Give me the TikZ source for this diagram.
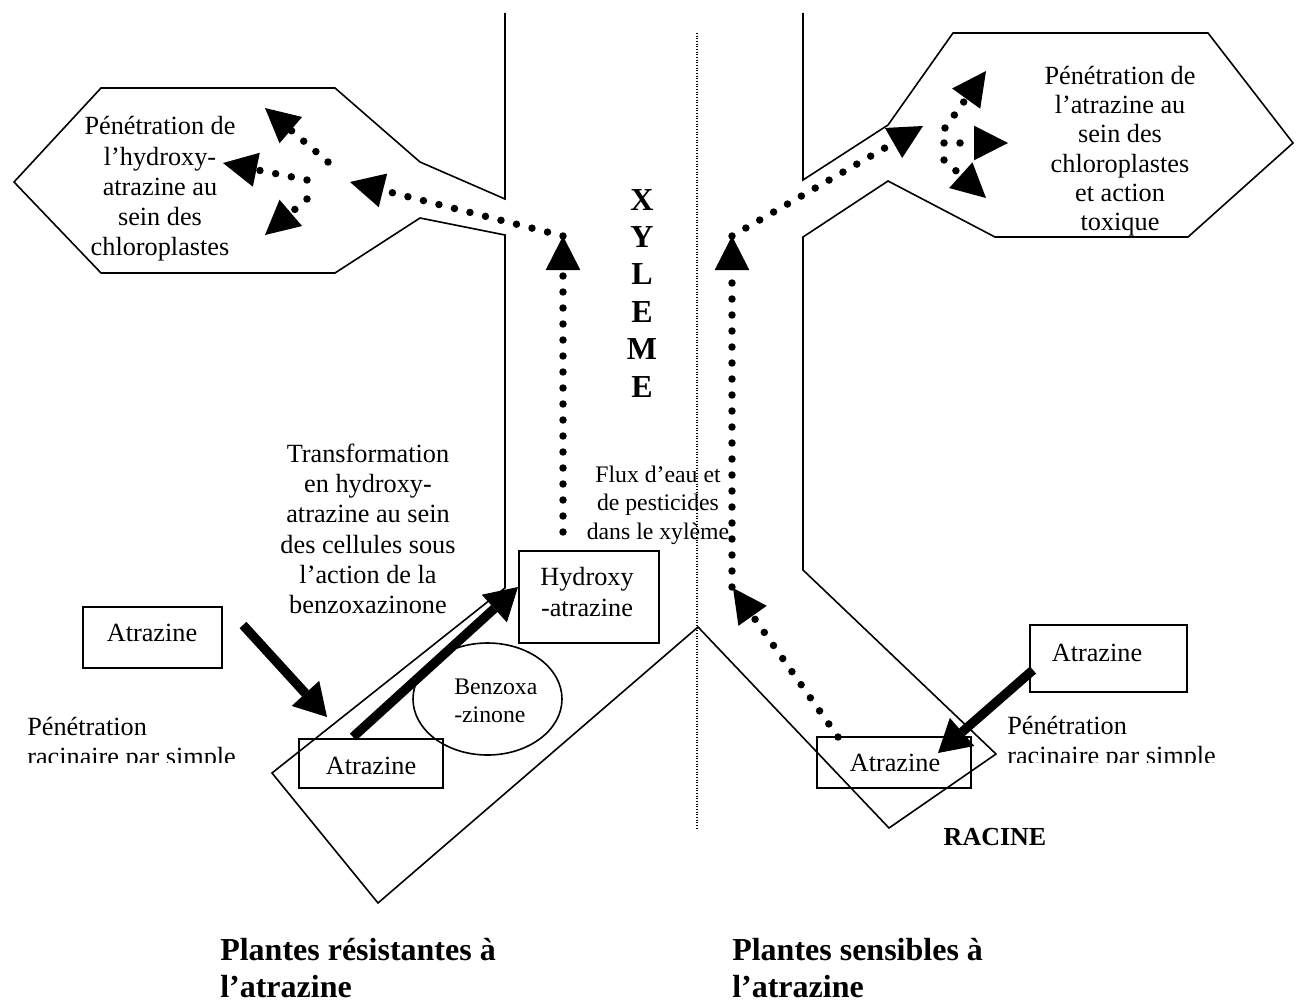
\documentclass[tikz,border=0pt]{standalone}
\usepackage{fontspec}
\setmainfont{Liberation Serif}
\usetikzlibrary{arrows.meta,shapes.geometric}
\begin{document}
\begin{tikzpicture}[x=0.75pt,y=-0.75pt,
  outline/.style={line width=1.2pt, line join=miter},
  boxshape/.style={draw, line width=1.2pt, inner sep=0pt},
  txt/.style={inner sep=0pt, align=center, font=\fontsize{19.7}{22.7}\selectfont},
  smalltxt/.style={inner sep=0pt, align=center, font=\fontsize{17.8}{21.4}\selectfont},
  boldtxt/.style={inner sep=0pt, font=\bfseries\fontsize{24}{28}\selectfont},
  racinetxt/.style={inner sep=0pt, font=\bfseries\fontsize{19.5}{22}\selectfont},
  dotarrow/.style={line width=5.6pt, line cap=round, dash pattern=on 0pt off 12pt,
    -{Triangle[length=25.5pt,width=26pt,line width=0pt]}},
  bigarrow/.style={line width=7pt, -{Triangle[length=24pt,width=28pt,line width=0pt]}},
  midline/.style={line width=0.8pt, dash pattern=on 0.8pt off 1.2pt},
]
\useasboundingbox (0,0) rectangle (1301,1002);

% ---------- outline of the plant (xylem walls, leaves, roots) ----------
\draw[outline] (505,13) -- (505,199) -- (420,162) -- (335,88) -- (101,88)
  -- (14,182) -- (101,273) -- (335,273) -- (420,218) -- (505,235) -- (505,588)
  -- (272,773) -- (378,903) -- (698,627) -- (889,828) -- (996,754) -- (803,570)
  -- (803,237) -- (888,181) -- (995,237) -- (1188,237) -- (1293,143) -- (1208,33)
  -- (953,33) -- (888,125) -- (803,180) -- (803,13);

% central separator
\coordinate (sepTop) at (697,33);
\coordinate (sepBot) at (697,830);
\draw[midline] (sepTop) -- (sepBot);

% ---------- boxes ----------
\node[boxshape, minimum width=104.25pt, minimum height=45.75pt] (atrTLbox) at (152.5,637.5) {};
\node[boxshape, minimum width=108pt, minimum height=36.75pt] (atrBLbox) at (371,763.5) {};
\node[boxshape, minimum width=105pt, minimum height=69pt] (hydbox) at (589,597) {};
\node[boxshape, minimum width=117.75pt, minimum height=50.25pt] (atrTRbox) at (1108.5,658.5) {};
\node[boxshape, minimum width=115.5pt, minimum height=38.25pt] (atrBRbox) at (894,762.5) {};
\node[draw, ellipse, line width=1.2pt, inner sep=0pt, minimum width=111.75pt, minimum height=84pt] (benz) at (487.5,699) {};

% ---------- texts ----------
\node[txt] (tAtrTL) at (152,633) {Atrazine};
\node[txt] (tAtrBL) at (371,766) {Atrazine};
\node[txt] (tHyd) at (587,592) {Hydroxy\\-atrazine};
\node[txt] (tAtrTR) at (1097,653) {Atrazine};
\node[txt] (tAtrBR) at (895,763) {Atrazine};
\node[smalltxt, align=left, anchor=west] (tBenz) at (454,701) {Benzoxa\\-zinone};

\node[txt] (leafL) at (160,189) {Pénétration de\\l’hydroxy-\\atrazine au\\sein des\\chloroplastes};
\node[txt, font=\fontsize{19.7}{22}\selectfont] (leafR) at (1120,151) {Pénétration de\\l’atrazine au\\sein des\\chloroplastes\\et action\\toxique};
\node[txt] (transf) at (368,529) {Transformation\\en hydroxy-\\atrazine au sein\\des cellules sous\\l’action de la\\benzoxazinone};
\node[smalltxt] (flux) at (658,505) {Flux d’eau et\\de pesticides\\dans le xylème};

\begin{scope}
  \clip (0,0) rectangle (1301,762.5);
  \node[txt, anchor=base west] (penL1) at (27,735) {Pénétration};
  \node[txt, anchor=base west] (penL2) at (27,765) {racinaire par simple};
  \node[txt, anchor=base west] (penR1) at (1007,734) {Pénétration};
  \node[txt, anchor=base west] (penR2) at (1007,764) {racinaire par simple};
\end{scope}

\node[boldtxt] (xX) at (642,200) {X};
\node[boldtxt] (xY) at (642,237) {Y};
\node[boldtxt] (xL) at (642,274) {L};
\node[boldtxt] (xE) at (642,312) {E};
\node[boldtxt] (xM) at (642,349) {M};
\node[boldtxt] (xE2) at (642,387) {E};

\node[racinetxt] (racine) at (995,837) {RACINE};

\node[boldtxt, anchor=base west] (resA) at (220,960) {Plantes résistantes à};
\node[boldtxt, anchor=base west] (resB) at (220,997) {l’atrazine};
\node[boldtxt, anchor=base west] (senA) at (732,960) {Plantes sensibles à};
\node[boldtxt, anchor=base west] (senB) at (732,997) {l’atrazine};

% ---------- connector end points ----------
\coordinate (t1s) at (243,625);  \coordinate (t1e) at (327,717);
\coordinate (t2s) at (353,737);  \coordinate (t2e) at (518,587);
\coordinate (t3s) at (1033,670); \coordinate (t3e) at (938,753);

\coordinate (aS) at (563,532);   \coordinate (aE) at (563,236);
\coordinate (bE) at (350,182);
\coordinate (c1Ls) at (328,162); \coordinate (c1Le) at (265,108);
\coordinate (c2Ls) at (307,180); \coordinate (c2Le) at (223,163);
\coordinate (c3Ls) at (307,199); \coordinate (c3Le) at (265,235);

\coordinate (dS) at (732,587);   \coordinate (dE) at (732,236);
\coordinate (eE) at (923,126);
\coordinate (c1Rs) at (945,128); \coordinate (c1Re) at (986,71);
\coordinate (c2Rs) at (944,143); \coordinate (c2Re) at (1008,143);
\coordinate (c3Rs) at (944,160); \coordinate (c3Re) at (986,198);
\coordinate (gS) at (838,737);   \coordinate (gE) at (733,588);

% ---------- thick arrows ----------
\draw[bigarrow] (t1s) -- (t1e);
\draw[bigarrow] (t2s) -- (t2e);
\draw[bigarrow] (t3s) -- (t3e);

% ---------- dotted arrows ----------
\draw[dotarrow] (aS) -- (aE);
\draw[dotarrow] (aE) -- (bE);
\draw[dotarrow] (c1Ls) -- (c1Le);
\draw[dotarrow] (c2Ls) -- (c2Le);
\draw[dotarrow] (c3Ls) -- (c3Le);
\draw[dotarrow] (dS) -- (dE);
\draw[dotarrow] (dE) -- (eE);
\draw[dotarrow] (c1Rs) -- (c1Re);
\draw[dotarrow] (c2Rs) -- (c2Re);
\draw[dotarrow] (c3Rs) -- (c3Re);
\draw[dotarrow] (gS) -- (gE);
\end{tikzpicture}
\end{document}
